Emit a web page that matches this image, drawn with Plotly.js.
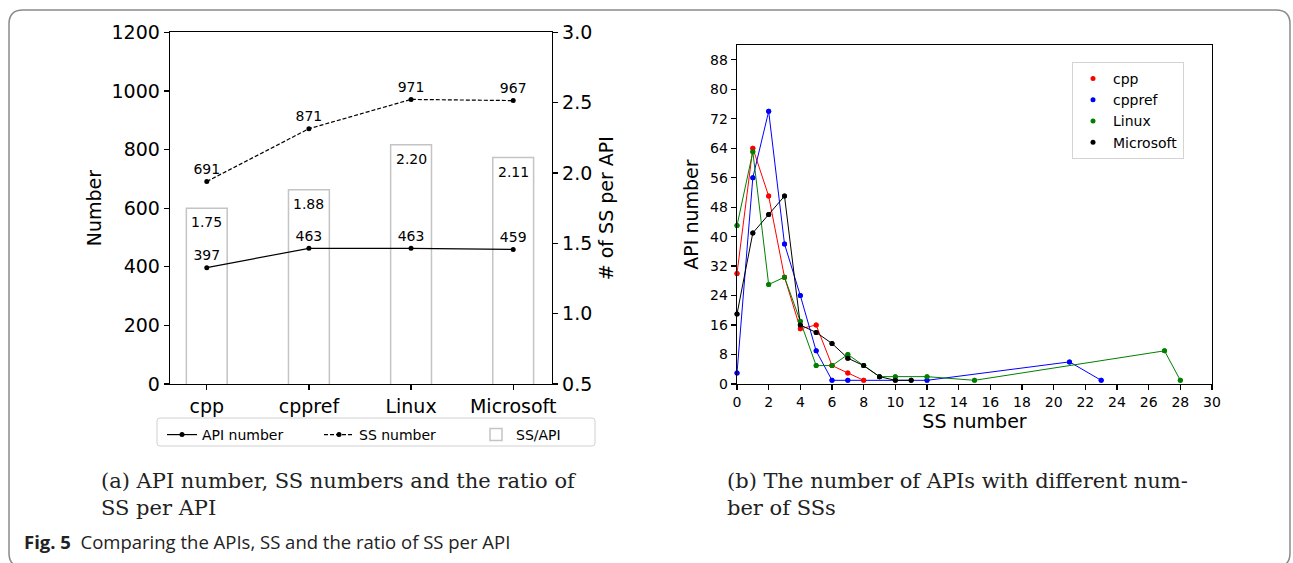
<!DOCTYPE html>
<html>
<head>
<meta charset="utf-8">
<script src="https://cdn.plot.ly/plotly-3.0.1.min.js"></script>
<style>
  html, body { margin: 0; padding: 0; background: #fff; }
  #chart { width: 1293px; height: 563px; }
</style>
</head>
<body>
<div id="chart"></div>
<script>
// ---- Data: panel (a) ----
const categories = ['cpp', 'cppref', 'Linux', 'Microsoft'];
const apiNumber = [397, 463, 463, 459];
const ssNumber = [691, 871, 971, 967];
const ssPerApi = [1.75, 1.88, 2.20, 2.11];

// ---- Data: panel (b) ----
const cppSS = [0, 1, 2, 3, 4, 5, 6, 7, 8];
const cppAPI = [30, 64, 51, 29, 15, 16, 5, 3, 1];
const cpprefSS = [0, 1, 2, 3, 4, 5, 6, 7, 12, 21, 23];
const cpprefAPI = [3, 56, 74, 38, 24, 9, 1, 1, 1, 6, 1];
const linuxSS = [0, 1, 2, 3, 4, 5, 6, 7, 8, 9, 10, 12, 15, 27, 28];
const linuxAPI = [43, 63, 27, 29, 17, 5, 5, 8, 5, 2, 2, 2, 1, 9, 1];
const msSS = [0, 1, 2, 3, 4, 5, 6, 7, 8, 9, 10, 11];
const msAPI = [19, 41, 46, 51, 16, 14, 11, 7, 5, 2, 1, 1];

const seriesB = [
  {name: 'cpp', x: cppSS, y: cppAPI, color: '#ff0000'},
  {name: 'cppref', x: cpprefSS, y: cpprefAPI, color: '#0000ff'},
  {name: 'Linux', x: linuxSS, y: linuxAPI, color: '#008000'},
  {name: 'Microsoft', x: msSS, y: msAPI, color: '#000000'}
];

// ---- Layout helpers (pixel -> paper) ----
const W = 1293, H = 563;
const px = v => v / W;
const py = v => 1 - v / H;

const FONT = 'DejaVu Sans, sans-serif';
const SERIF = 'DejaVu Serif, serif';

const traces = [];

// bars (ratio) on base y axis (right side)
traces.push({
  type: 'bar', x: categories, y: ssPerApi, name: 'SS/API',
  xaxis: 'x', yaxis: 'y', width: 0.4,
  marker: {color: 'rgba(255,255,255,0)', line: {color: '#c4c4c4', width: 1.5}},
  legend: 'legend', legendrank: 3, hoverinfo: 'x+y'
});
// API number (solid)
traces.push({
  type: 'scatter', mode: 'lines+markers+text', x: categories, y: apiNumber,
  name: 'API number', xaxis: 'x', yaxis: 'y2',
  line: {color: '#000', width: 1.2}, marker: {color: '#000', size: 5},
  text: apiNumber.map(String), textposition: 'top center',
  textfont: {family: FONT, size: 14, color: '#000'},
  legend: 'legend', legendrank: 1, cliponaxis: false
});
// SS number (dashed)
traces.push({
  type: 'scatter', mode: 'lines+markers+text', x: categories, y: ssNumber,
  name: 'SS number', xaxis: 'x', yaxis: 'y2',
  line: {color: '#000', width: 1.2, dash: '4px,2px'}, marker: {color: '#000', size: 5},
  text: ssNumber.map(String), textposition: 'top center',
  textfont: {family: FONT, size: 14, color: '#000'},
  legend: 'legend', legendrank: 2, cliponaxis: false
});

// panel (b) lines (no legend) + marker-only legend traces
seriesB.forEach(s => {
  traces.push({
    type: 'scatter', mode: 'lines+markers', x: s.x, y: s.y, name: s.name,
    xaxis: 'x2', yaxis: 'y3', showlegend: false,
    line: {color: s.color, width: 1}, marker: {color: s.color, size: 5},
    cliponaxis: false
  });
});
seriesB.forEach(s => {
  traces.push({
    type: 'scatter', mode: 'markers', x: s.x, y: s.y, name: s.name,
    xaxis: 'x2', yaxis: 'y3', legend: 'legend2',
    marker: {color: s.color, size: 5}, cliponaxis: false
  });
});

// bar value labels as annotations
const annotations = categories.map((c, i) => ({
  x: c, y: ssPerApi[i], xref: 'x', yref: 'y',
  text: ssPerApi[i].toFixed(2), showarrow: false, yshift: -14,
  font: {family: FONT, size: 14, color: '#000'}
}));

// captions
annotations.push({
  xref: 'paper', yref: 'paper', x: px(99), y: py(494), xanchor: 'left', yanchor: 'middle',
  align: 'left',
  text: '(a) API number, SS numbers and the ratio of<br>SS per API', showarrow: false,
  font: {family: SERIF, size: 21, color: '#222'}
});
annotations.push({
  xref: 'paper', yref: 'paper', x: px(725), y: py(494), xanchor: 'left', yanchor: 'middle',
  align: 'left',
  text: '(b) The number of APIs with different num-<br>ber of SSs', showarrow: false,
  font: {family: SERIF, size: 21, color: '#222'}
});
annotations.push({
  xref: 'paper', yref: 'paper', x: px(22), y: py(541), xanchor: 'left', yanchor: 'middle',
  text: '<b>Fig. 5</b>  Comparing the APIs, SS and the ratio of SS per API', showarrow: false,
  font: {family: 'Open Sans, sans-serif', size: 18.5, color: '#222'}
});

// rounded rectangle path in paper coords
function roundedRect(x0, y0, x1, y1, r) {
  const P = (x, y) => px(x) + ',' + py(y);
  return 'M' + P(x0 + r, y0) + ' L' + P(x1 - r, y0) + ' Q' + P(x1, y0) + ' ' + P(x1, y0 + r) +
    ' L' + P(x1, y1 - r) + ' Q' + P(x1, y1) + ' ' + P(x1 - r, y1) +
    ' L' + P(x0 + r, y1) + ' Q' + P(x0, y1) + ' ' + P(x0, y1 - r) +
    ' L' + P(x0, y0 + r) + ' Q' + P(x0, y0) + ' ' + P(x0 + r, y0) + ' Z';
}

const axisCommon = {
  showline: true, linecolor: '#000', linewidth: 1.3,
  ticks: 'outside', ticklen: 5, tickwidth: 1.2, tickcolor: '#000',
  showgrid: false, zeroline: false
};

const layout = {
  width: W, height: H,
  margin: {l: 0, r: 0, t: 0, b: 0},
  paper_bgcolor: '#fff', plot_bgcolor: 'rgba(0,0,0,0)',
  font: {family: FONT, color: '#000'},
  showlegend: true,
  xaxis: Object.assign({}, axisCommon, {
    domain: [px(170), px(552)], anchor: 'y', type: 'category',
    range: [-0.36, 3.38], mirror: true,
    tickfont: {size: 19}
  }),
  yaxis: Object.assign({}, axisCommon, {
    domain: [py(384), py(32.3)], anchor: 'x', side: 'right',
    range: [0.5, 3.0], dtick: 0.5, tick0: 0.5, tickformat: '.1f',
    tickfont: {size: 19},
    title: {text: '# of SS per API', font: {size: 19}, standoff: 8}
  }),
  yaxis2: Object.assign({}, axisCommon, {
    domain: [py(384), py(32.3)], overlaying: 'y', anchor: 'x', side: 'left',
    range: [0, 1200], dtick: 200,
    tickfont: {size: 19},
    title: {text: 'Number', font: {size: 19}, standoff: 5}
  }),
  xaxis2: Object.assign({}, axisCommon, {
    domain: [px(737), px(1212)], anchor: 'y3',
    range: [0, 30], dtick: 2, mirror: true,
    tickfont: {size: 14},
    title: {text: 'SS number', font: {size: 19}, standoff: 4}
  }),
  yaxis3: Object.assign({}, axisCommon, {
    domain: [py(384), py(45)], anchor: 'x2',
    range: [0, 92], dtick: 8, mirror: true,
    tickfont: {size: 14},
    title: {text: 'API number', font: {size: 19}, standoff: 6}
  }),
  legend: {
    orientation: 'h', xref: 'paper', yref: 'paper',
    x: px(162), y: py(419), xanchor: 'left', yanchor: 'top',
    borderwidth: 0, bgcolor: 'rgba(0,0,0,0)',
    font: {family: FONT, size: 14, color: '#000'},
    entrywidth: 112, entrywidthmode: 'pixels', traceorder: 'normal'
  },
  legend2: {
    xref: 'paper', yref: 'paper',
    x: px(1072), y: py(62), xanchor: 'left', yanchor: 'top',
    bordercolor: '#d4d4d4', borderwidth: 1, bgcolor: '#fff',
    font: {family: FONT, size: 14, color: '#000'},
    itemsizing: 'trace', tracegroupgap: 4
  },
  annotations: annotations,
  shapes: [
    {
      type: 'path', xref: 'paper', yref: 'paper',
      path: roundedRect(9, 10, 1290, 567, 14),
      line: {color: '#8a8a8a', width: 1.5}, fillcolor: 'rgba(0,0,0,0)', layer: 'below'
    },
    {
      type: 'path', xref: 'paper', yref: 'paper',
      path: roundedRect(157, 418, 595, 446, 3),
      line: {color: '#d0d0d0', width: 1}, fillcolor: 'rgba(0,0,0,0)', layer: 'below'
    }
  ]
};

Plotly.newPlot('chart', traces, layout, {displayModeBar: false, staticPlot: true});
</script>
</body>
</html>
